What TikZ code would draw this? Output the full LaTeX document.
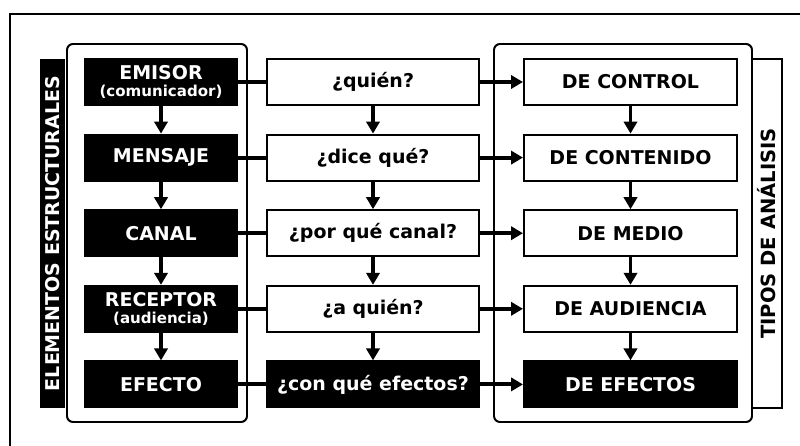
\documentclass[tikz,border=0pt]{standalone}
\usepackage{fontspec}
\setmainfont{DejaVu Sans}
\usepackage{tikz}
\usetikzlibrary{arrows.meta,positioning,calc}

\begin{document}
\begin{tikzpicture}[
    box/.style={rectangle, draw=black, line width=1.4pt, minimum height=1.15cm, inner sep=0pt, align=center, font=\fontsize{13.5}{14}\selectfont\bfseries},
    darkbox/.style={box, fill=black, text=white},
    lightbox/.style={box, fill=white, text=black},
    elembox/.style={darkbox, minimum width=3.8cm},
    quesbox/.style={minimum width=5.3cm},
    tipobox/.style={minimum width=5.325cm},
    sub/.style={font=\fontsize{10.7}{12}\selectfont\bfseries},
    link/.style={line width=2.8pt},
    flow/.style={link, -{Triangle[width=0.33cm,length=0.3cm]}},
    panel/.style={line width=1.4pt, rounded corners=0.15cm}
]
\useasboundingbox (0,0) rectangle (20,-11.15);

% Outer frame
\draw[line width=1.4pt] (0.25,-11.15) -- (0.25,-0.35) -- (20,-0.35);

% Side labels
\node[rectangle, fill=black, minimum width=0.625cm, minimum height=8.725cm, inner sep=0pt] (elembar) at (1.3125,-5.8375) {};
\node[rotate=90, text=white, font=\fontsize{13.5}{14}\selectfont\bfseries] at (elembar) {ELEMENTOS ESTRUCTURALES};
\node[rectangle, draw, line width=1.4pt, fill=white, minimum width=0.75cm, minimum height=8.725cm, inner sep=0pt] (tipobar) at (19.175,-5.8375) {};
\node[rotate=90, font=\fontsize{13.9}{14}\selectfont\bfseries] at (tipobar) {TIPOS DE ANÁLISIS};

% Panels
\draw[panel, fill=white] (1.675,-1.1) rectangle (6.175,-10.55);
\draw[panel, fill=white] (12.35,-1.1) rectangle (18.8,-10.55);

% Elementos
\node[elembox] (emisor) at (4.025,-2.05) {EMISOR\\[-2pt]{\fontsize{10.7}{12}\selectfont(comunicador)}};
\node[elembox] (mensaje) at (4.025,-3.94) {MENSAJE};
\node[elembox] (canal) at (4.025,-5.83) {CANAL};
\node[elembox] (receptor) at (4.025,-7.72) {RECEPTOR\\[-2pt]{\fontsize{10.7}{12}\selectfont(audiencia)}};
\node[elembox] (efecto) at (4.025,-9.61) {EFECTO};

% Preguntas
\node[lightbox, quesbox] (quien) at (9.325,-2.05) {¿quién?};
\node[lightbox, quesbox] (dice) at (9.325,-3.94) {¿dice qué?};
\node[lightbox, quesbox] (porque) at (9.325,-5.83) {¿por qué canal?};
\node[lightbox, quesbox] (aquien) at (9.325,-7.72) {¿a quién?};
\node[darkbox, quesbox] (conque) at (9.325,-9.61) {¿con qué efectos?};

% Tipos
\node[lightbox, tipobox] (control) at (15.7625,-2.05) {DE CONTROL};
\node[lightbox, tipobox] (contenido) at (15.7625,-3.94) {DE CONTENIDO};
\node[lightbox, tipobox] (medio) at (15.7625,-5.83) {DE MEDIO};
\node[lightbox, tipobox] (audiencia) at (15.7625,-7.72) {DE AUDIENCIA};
\node[darkbox, tipobox] (efectos) at (15.7625,-9.61) {DE EFECTOS};

% Vertical flow
\draw[flow] (emisor) -- (mensaje);
\draw[flow] (mensaje) -- (canal);
\draw[flow] (canal) -- (receptor);
\draw[flow] (receptor) -- (efecto);
\draw[flow] (quien) -- (dice);
\draw[flow] (dice) -- (porque);
\draw[flow] (porque) -- (aquien);
\draw[flow] (aquien) -- (conque);
\draw[flow] (control) -- (contenido);
\draw[flow] (contenido) -- (medio);
\draw[flow] (medio) -- (audiencia);
\draw[flow] (audiencia) -- (efectos);

% Links across
\draw[link] (emisor) -- (quien);
\draw[link] (mensaje) -- (dice);
\draw[link] (canal) -- (porque);
\draw[link] (receptor) -- (aquien);
\draw[link] (efecto) -- (conque);
\draw[flow] (quien) -- (control);
\draw[flow] (dice) -- (contenido);
\draw[flow] (porque) -- (medio);
\draw[flow] (aquien) -- (audiencia);
\draw[flow] (conque) -- (efectos);

\end{tikzpicture}
\end{document}
